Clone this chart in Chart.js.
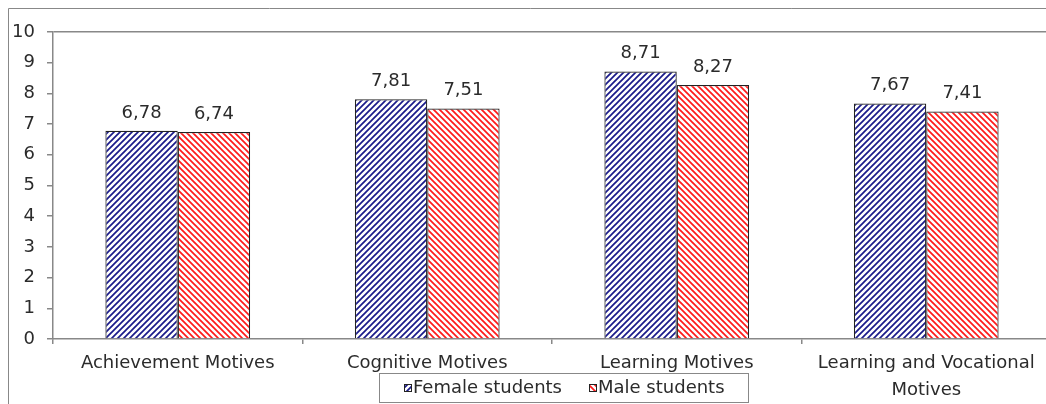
<!DOCTYPE html>
<html lang="en">
<head>
    <meta charset="UTF-8">
    <title>Motives by gender</title>
    <style>
        * { margin: 0; padding: 0; box-sizing: border-box; }
        body { background: #fff; overflow: hidden; }
        .chart-box { width: 1052px; height: 404px; position: relative; }
    </style>
</head>
<body>
    <div class="chart-box">
        <canvas id="motivesChart"></canvas>
    </div>

    <script src="https://cdn.jsdelivr.net/npm/chart.js"></script>
    <script>
        // data
        const categories = ['Achievement Motives', 'Cognitive Motives', 'Learning Motives', ['Learning and Vocational', 'Motives']];
        const femaleValues = [6.78, 7.81, 8.71, 7.67];
        const maleValues = [6.74, 7.51, 8.27, 7.41];
        const seriesNames = ['Female students', 'Male students'];
        const yTicks = [0, 1, 2, 3, 4, 5, 6, 7, 8, 9, 10];

        const FONT = '"DejaVu Sans", "Liberation Sans", Arial, sans-serif';
        const TEXT = '#2b2b2b';
        const AXIS = '#888888';

        // diagonal hatch, dir 1 = "/", -1 = "\"
        function makeHatch(color, dir) {
            const s = 6;
            const c = document.createElement('canvas');
            c.width = s; c.height = s;
            const g = c.getContext('2d');
            g.fillStyle = '#ffffff';
            g.fillRect(0, 0, s, s);
            g.strokeStyle = color;
            g.lineWidth = 1.7;
            g.beginPath();
            if (dir > 0) {
                g.moveTo(-1, s + 1); g.lineTo(s + 1, -1);
                g.moveTo(-1, 1); g.lineTo(1, -1);
                g.moveTo(s - 1, s + 1); g.lineTo(s + 1, s - 1);
            } else {
                g.moveTo(-1, -1); g.lineTo(s + 1, s + 1);
                g.moveTo(s - 1, -1); g.lineTo(s + 1, 1);
                g.moveTo(-1, s - 1); g.lineTo(1, s + 1);
            }
            g.stroke();
            return g.createPattern(c, 'repeat');
        }

        const blueHatch = makeHatch('#1a1a8a', 1);
        const redHatch = makeHatch('#ff1a1a', -1);

        // frame round the whole picture
        const framePlugin = {
            id: 'frame',
            beforeDraw(chart) {
                const ctx = chart.ctx;
                ctx.save();
                ctx.strokeStyle = AXIS;
                ctx.lineWidth = 1;
                ctx.beginPath();
                ctx.moveTo(8.5, chart.height);
                ctx.lineTo(8.5, 8.5);
                ctx.lineTo(chart.width, 8.5);
                ctx.stroke();
                ctx.restore();
            }
        };

        // value labels above the bars, with a decimal comma
        const valueLabels = {
            id: 'valueLabels',
            afterDatasetsDraw(chart) {
                const ctx = chart.ctx;
                ctx.save();
                ctx.font = '18px ' + FONT;
                ctx.fillStyle = TEXT;
                ctx.textAlign = 'center';
                ctx.textBaseline = 'middle';
                chart.data.datasets.forEach((ds, i) => {
                    chart.getDatasetMeta(i).data.forEach((bar, j) => {
                        ctx.fillText(ds.data[j].toFixed(2).replace('.', ','), bar.x, bar.y - 18);
                    });
                });
                ctx.restore();
            }
        };

        // boxed legend sitting over the bottom labels
        const boxLegend = {
            id: 'boxLegend',
            afterDraw(chart) {
                const ctx = chart.ctx;
                ctx.save();
                ctx.fillStyle = '#ffffff';
                ctx.fillRect(379.5, 373.5, 369, 29);
                ctx.strokeStyle = AXIS;
                ctx.lineWidth = 1;
                ctx.strokeRect(379.5, 373.5, 369, 29);

                const items = [
                    { x: 404, fill: blueHatch, label: seriesNames[0] },
                    { x: 589, fill: redHatch, label: seriesNames[1] }
                ];
                ctx.font = '18px ' + FONT;
                ctx.textBaseline = 'middle';
                ctx.textAlign = 'left';
                items.forEach(it => {
                    ctx.fillStyle = it.fill;
                    ctx.fillRect(it.x, 384, 7, 7);
                    ctx.strokeStyle = '#222';
                    ctx.strokeRect(it.x + 0.5, 384.5, 7, 7);
                    ctx.fillStyle = TEXT;
                    ctx.fillText(it.label, it.x + 9, 388);
                });
                ctx.restore();
            }
        };

        const ctx = document.getElementById('motivesChart').getContext('2d');

        new Chart(ctx, {
            type: 'bar',
            data: {
                labels: categories,
                datasets: [
                    {
                        label: seriesNames[0],
                        data: femaleValues,
                        backgroundColor: blueHatch,
                        borderColor: '#222',
                        borderWidth: 1.2,
                        categoryPercentage: 0.58,
                        barPercentage: 1.0
                    },
                    {
                        label: seriesNames[1],
                        data: maleValues,
                        backgroundColor: redHatch,
                        borderColor: '#222',
                        borderWidth: 1.2,
                        categoryPercentage: 0.58,
                        barPercentage: 1.0
                    }
                ]
            },
            options: {
                responsive: true,
                maintainAspectRatio: false,
                animation: false,
                layout: { padding: { left: 12, right: 1, top: 32, bottom: 0 } },
                plugins: {
                    legend: { display: false },
                    tooltip: { enabled: false }
                },
                scales: {
                    x: {
                        grid: {
                            offset: true,
                            drawOnChartArea: false,
                            tickLength: 5,
                            tickColor: AXIS,
                            lineWidth: 1.5
                        },
                        border: { color: AXIS, width: 1.5 },
                        ticks: {
                            color: TEXT,
                            font: { family: FONT, size: 18, lineHeight: 1.5 },
                            padding: 6,
                            maxRotation: 0,
                            autoSkip: false
                        },
                        afterFit(scale) { scale.height = 65; }
                    },
                    y: {
                        min: 0,
                        max: 10,
                        afterBuildTicks(scale) {
                            scale.ticks = yTicks.map(v => ({ value: v }));
                        },
                        grid: {
                            color: c => c.tick && c.tick.value === 10 ? AXIS : 'rgba(0,0,0,0)',
                            tickColor: AXIS,
                            tickLength: 6,
                            lineWidth: 1.5
                        },
                        border: { color: AXIS, width: 1.5 },
                        ticks: {
                            color: TEXT,
                            font: { family: FONT, size: 18 },
                            padding: 12
                        },
                        afterFit(scale) { scale.width = 41; }
                    }
                }
            },
            plugins: [framePlugin, valueLabels, boxLegend]
        });
    </script>
</body>
</html>
